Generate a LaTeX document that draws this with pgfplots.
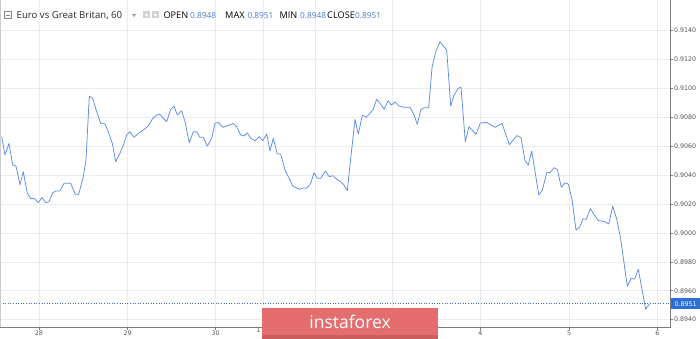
\documentclass[border=0pt]{standalone}
\usepackage{pgfplots}
\pgfplotsset{compat=1.18}
\usepackage{pgfplotstable}
\usepackage{fontspec}
\setmainfont{Open Sans}
\newfontfamily\tickfont{DejaVu Sans}
\definecolor{linec}{RGB}{92,140,230}
\definecolor{gridc}{RGB}{232,237,243}
\definecolor{axc}{RGB}{125,125,125}
\definecolor{tickc}{RGB}{85,85,85}
\definecolor{valc}{RGB}{74,125,210}
\definecolor{boxc}{RGB}{45,110,215}
\definecolor{bannerc}{RGB}{228,110,110}
\definecolor{bannerd}{RGB}{205,94,94}
\definecolor{titc}{RGB}{40,40,40}

\pgfplotstableread{
x y
1.7 0.90666
5 0.90539
9 0.90620
12.7 0.90470
16 0.90463
20 0.90332
23.3 0.90424
27.3 0.90274
30.7 0.90239
34.3 0.90239
38.3 0.90209
42 0.90246
45.7 0.90209
49 0.90216
52.7 0.90278
56 0.90290
60 0.90290
64 0.90343
70.7 0.90343
75.3 0.90267
78.7 0.90267
83.3 0.90389
86 0.90505
89.3 0.90947
92.7 0.90931
96.7 0.90839
100.7 0.90758
105 0.90754
108.3 0.90700
112.3 0.90620
115.7 0.90493
120 0.90551
123.3 0.90608
126.7 0.90678
130 0.90700
134 0.90662
138.3 0.90689
143.3 0.90712
148.3 0.90740
152.7 0.90793
156.7 0.90816
160 0.90821
163.3 0.90793
166.7 0.90770
170.7 0.90855
174 0.90878
177.3 0.90816
181.7 0.90846
185 0.90770
189.3 0.90624
193.3 0.90700
196.7 0.90700
200 0.90662
203.3 0.90662
207.3 0.90601
211.7 0.90655
215 0.90758
218.3 0.90765
222.7 0.90731
226.7 0.90740
230 0.90748
233.3 0.90758
236.7 0.90735
240.7 0.90678
244 0.90671
247.3 0.90693
250.7 0.90655
255 0.90638
259.3 0.90666
262.7 0.90638
266.7 0.90684
270 0.90567
273.3 0.90655
277.3 0.90546
280.7 0.90546
285 0.90435
288.3 0.90389
292.7 0.90325
299.3 0.90302
303.3 0.90311
306.7 0.90309
310.7 0.90343
314 0.90417
317.3 0.90378
320.7 0.90378
325.3 0.90428
329.3 0.90389
332.7 0.90396
336.7 0.90371
340.7 0.90354
344 0.90332
347.3 0.90292
350.7 0.90516
355 0.90786
358.3 0.90684
362.3 0.90816
366 0.90800
370 0.90828
373.3 0.90857
376.7 0.90925
380 0.90897
384 0.90855
388 0.90915
391.3 0.90885
395 0.90906
399.3 0.90878
404 0.90869
410 0.90869
414 0.90816
417.3 0.90752
420.7 0.90851
424 0.90866
428.7 0.90866
432 0.91146
436 0.91261
440 0.91323
446.7 0.91266
450.7 0.90878
454 0.90954
458.3 0.91001
461 0.91008
465.3 0.90631
469 0.90735
476 0.90682
480.3 0.90761
486.7 0.90765
495 0.90731
502 0.90758
509.3 0.90610
517 0.90674
521 0.90658
525 0.90501
528.3 0.90470
531.7 0.90567
538.8 0.90262
542.5 0.90299
546.7 0.90417
550 0.90418
554.2 0.90451
557.3 0.90440
561.3 0.90316
565 0.90347
568.3 0.90338
572 0.90231
576 0.90020
579.7 0.90041
583 0.90098
586.3 0.90095
590.3 0.90168
594.3 0.90124
598.3 0.90086
604.5 0.90078
608.8 0.90062
612.7 0.90186
616.7 0.90096
620.3 0.89974
627.3 0.89631
631.2 0.89686
634.5 0.89680
638.3 0.89748
645.7 0.89471
649.5 0.89510
}\pricedata

\begin{document}
\begin{tikzpicture}[x=1pt,y=1pt]
\path[use as bounding box] (0,0) rectangle (700,339);
\fill[white] (0,0) rectangle (700,339);
\begin{axis}[
  at={(0pt,12pt)}, anchor=south west, scale only axis,
  width=670pt, height=327pt,
  xmin=0, xmax=670, ymin=0.89349, ymax=0.91612,
  clip=false,
  axis line style={draw=none},
  xtick pos=bottom, ytick pos=right, yticklabel pos=right,
  tick align=outside, major tick length=3pt,
  tick style={axc, line width=0.5pt},
  xtick={39,127.7,215.7,263.3,315.7,392.7,480.3,569,657.3},
  xticklabels={28,29,30,,,,4,5,6},
  extra x ticks={258.5},
  extra x tick labels={1},
  extra x tick style={grid=none, major tick length=0pt},
  ytick={0.894,0.896,0.898,0.900,0.902,0.904,0.906,0.908,0.910,0.912,0.914},
  yticklabels={0.8940,0.8960,0.8980,0.9000,0.9020,0.9040,0.9060,0.9080,0.9100,0.9120,0.9140},
  /pgf/number format/assume math mode=true,
  grid=major, major grid style={gridc, line width=0.6pt},
  xticklabel style={font=\tickfont\fontsize{6.3}{7}\selectfont, text=tickc, inner sep=1pt},
  yticklabel style={font=\tickfont\fontsize{6.3}{7}\selectfont, text=tickc, inner sep=1pt, anchor=west},
]
\addplot[linec, line width=0.75pt, line join=round] table[x=x,y=y] {\pricedata};
\addplot[boxc, line width=0.6pt, dotted] coordinates {(0,0.8951) (670,0.8951)};
\node[anchor=west, fill=boxc, text=white, inner sep=0pt, minimum width=30pt, minimum height=11pt,
  font=\tickfont\fontsize{6.3}{7}\selectfont] at (axis cs:670,0.8951) {\,0.8951};
\draw[axc, line width=0.6pt] (rel axis cs:0,0) -- (rel axis cs:1,0) -- (rel axis cs:1,1);
\draw[gridc!70!gray, line width=0.5pt] (rel axis cs:0,0) -- (rel axis cs:0,1);
\end{axis}
% banner
\fill[bannerc] (262,0) rectangle (438,31);
\fill[bannerd] (262,0) rectangle (438,4);
\node[text=white, font=\fontsize{17.5}{20}\selectfont, anchor=base] at (350,10) {instaforex};
% title bar
\draw[gray, line width=0.5pt] (4.5,320.5) rectangle (11.5,327.5);
\draw[gray, line width=0.6pt] (6,324) -- (10,324);
\node[anchor=base west, inner sep=0pt, text=titc, font=\fontsize{9.6}{11}\selectfont] at (16.5,320) {Euro vs Great Britan, 60};
\fill[gray!70] (131.5,325) -- (136.5,325) -- (134,322) -- cycle;
\fill[gray!35] (143,320.5) rectangle (150,327.5);
\fill[gray!35] (152,320.5) rectangle (159,327.5);
\fill[white] (146.5,324) circle (1.6pt);
\fill[white] (155.5,324) circle (1.6pt);
\node[anchor=base west, inner sep=0pt, text=black, font=\fontsize{9.2}{11}\selectfont] at (163.3,320) {OPEN};
\node[anchor=base west, inner sep=0pt, text=valc, font=\fontsize{8.3}{10}\selectfont] at (190,320) {0.8948};
\node[anchor=base west, inner sep=0pt, text=black, font=\fontsize{9.2}{11}\selectfont] at (225,320) {MAX};
\node[anchor=base west, inner sep=0pt, text=valc, font=\fontsize{8.3}{10}\selectfont] at (247.3,320) {0.8951};
\node[anchor=base west, inner sep=0pt, text=black, font=\fontsize{9.2}{11}\selectfont] at (279.3,320) {MIN};
\node[anchor=base west, inner sep=0pt, text=valc, font=\fontsize{8.3}{10}\selectfont] at (300,320) {0.8948};
\node[anchor=base west, inner sep=0pt, text=black, font=\fontsize{9.2}{11}\selectfont] at (327,320) {CLOSE};
\node[anchor=base west, inner sep=0pt, text=valc, font=\fontsize{8.3}{10}\selectfont] at (355,320) {0.8951};
\end{tikzpicture}
\end{document}
